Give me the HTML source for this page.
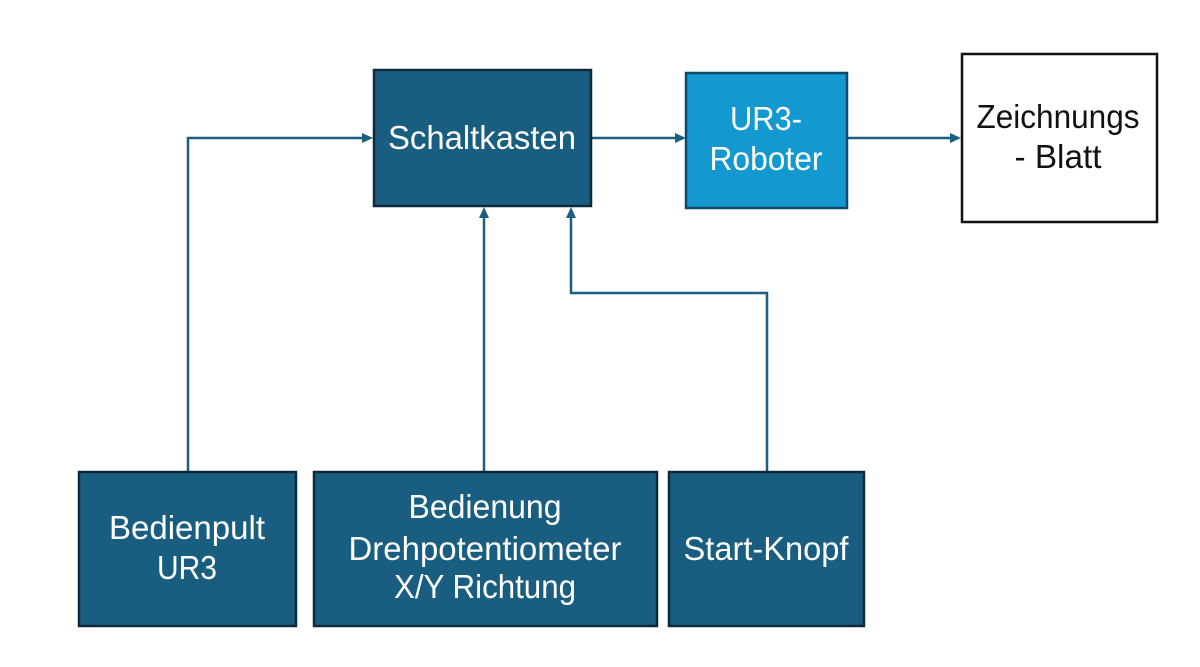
<!DOCTYPE html>
<html>
<head>
<meta charset="utf-8">
<style>
html,body{margin:0;padding:0;background:#fff;}
svg{display:block;}
text{font-family:"Liberation Sans",sans-serif;font-size:33px;}
</style>
</head>
<body>
<svg width="1200" height="667" viewBox="0 0 1200 667" xmlns="http://www.w3.org/2000/svg">
  <rect width="1200" height="667" fill="#ffffff"/>
  <!-- connectors -->
  <g stroke="#1b5e80" stroke-width="2.5" fill="none">
    <polyline points="188,471 188,138 364,138"/>
    <line x1="592" y1="138" x2="676" y2="138"/>
    <line x1="848" y1="138" x2="952" y2="138"/>
    <line x1="484" y1="471" x2="484" y2="216"/>
    <polyline points="767,471 767,293 571,293 571,216"/>
  </g>
  <g fill="#1b5e80">
    <polygon points="373,138 362,133 362,143"/>
    <polygon points="686,138 675,133 675,143"/>
    <polygon points="961,138 950,133 950,143"/>
    <polygon points="484,207 479,218 489,218"/>
    <polygon points="571,207 566,218 576,218"/>
  </g>
  <!-- top boxes -->
  <rect x="374" y="70" width="217" height="136" fill="#195e81" stroke="#0d2a3c" stroke-width="2.5"/>
  <rect x="686" y="73" width="161" height="135" fill="#1399d0" stroke="#0f4a6a" stroke-width="2.5"/>
  <rect x="962" y="54" width="195" height="168" fill="#ffffff" stroke="#111111" stroke-width="2.5"/>
  <!-- bottom boxes -->
  <rect x="79" y="472" width="217" height="154" fill="#195e81" stroke="#0d2a3c" stroke-width="2.5"/>
  <rect x="314" y="472" width="343" height="154" fill="#195e81" stroke="#0d2a3c" stroke-width="2.5"/>
  <rect x="669" y="472" width="195" height="154" fill="#195e81" stroke="#0d2a3c" stroke-width="2.5"/>
  <!-- labels -->
  <g fill="#ffffff" text-anchor="middle">
    <text x="482" y="149" textLength="188" lengthAdjust="spacingAndGlyphs">Schaltkasten</text>
    <text x="766" y="130" textLength="72" lengthAdjust="spacingAndGlyphs">UR3-</text>
    <text x="766" y="170" textLength="113" lengthAdjust="spacingAndGlyphs">Roboter</text>
    <text x="187" y="539" textLength="156" lengthAdjust="spacingAndGlyphs">Bedienpult</text>
    <text x="187" y="579" textLength="60" lengthAdjust="spacingAndGlyphs">UR3</text>
    <text x="485" y="518" textLength="153" lengthAdjust="spacingAndGlyphs">Bedienung</text>
    <text x="485" y="560" textLength="273" lengthAdjust="spacingAndGlyphs">Drehpotentiometer</text>
    <text x="485" y="598" textLength="182" lengthAdjust="spacingAndGlyphs">X/Y Richtung</text>
    <text x="766" y="560" textLength="165" lengthAdjust="spacingAndGlyphs">Start-Knopf</text>
  </g>
  <g fill="#111111" text-anchor="middle">
    <text x="1058" y="128" textLength="163" lengthAdjust="spacingAndGlyphs">Zeichnungs</text>
    <text x="1058" y="168" textLength="87" lengthAdjust="spacingAndGlyphs">- Blatt</text>
  </g>
</svg>
</body>
</html>
